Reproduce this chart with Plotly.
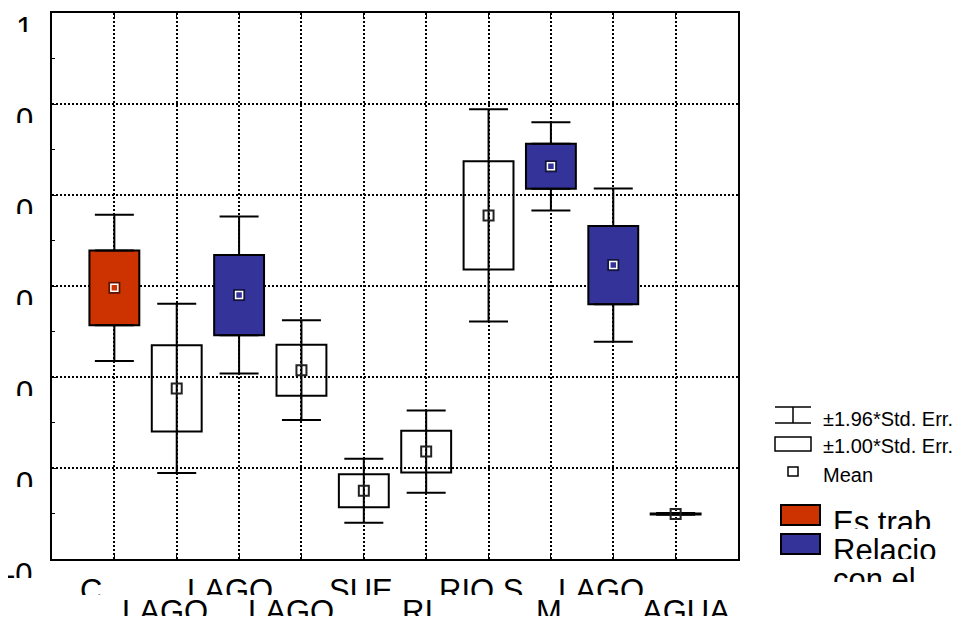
import plotly.graph_objects as go

# ---------------- data ----------------
categories = ["C", "LAGO", "LAGO", "LAGO", "SUE", "RI", "RIO S", "M", "LAGO", "AGUA"]
means = [0.396, 0.175, 0.380, 0.215, -0.050, 0.036, 0.555, 0.663, 0.446, -0.101]
std_err = [0.082, 0.095, 0.088, 0.056, 0.036, 0.046, 0.119, 0.0495, 0.086, 0.001]
groups = ["Es trab", None, "Relacio con el", None, None, None, None,
          "Relacio con el", "Relacio con el", None]
y_tick_values = [-0.2, 0.0, 0.2, 0.4, 0.6, 0.8, 1.0]
y_tick_text = ["-0", "0", "0", "0", "0", "0", "1"]
legend_stats = ["±1.96*Std. Err.", "±1.00*Std. Err.", "Mean"]
legend_groups = ["Es trab", "Relacio con el"]
legend_group_lines = [["Es trab"], ["Relacio", "con el"]]

# ---------------- style ----------------
group_fill = {"Es trab": "#CC3300", "Relacio con el": "#333399"}
group_dark = {"Es trab": "#5a1600", "Relacio con el": "#14143c"}
label_xshift = [-23, -12, -9, -10, -3, -9, -8, -2, -12, 10]
FONT = "Liberation Sans, Arial, sans-serif"
BODY = 8                      # default page margin of the html body
W, H = 961 - 2 * BODY, 624 - 2 * BODY
# plot area in page pixels: x 52..738, y 13..559
ML, MT = 52 - BODY, 13 - BODY
MR, MB = W - (738 - BODY), H - (559 - BODY)
PW, PH = W - ML - MR, H - MT - MB


def pxx(px):
    return (px - BODY - ML) / PW


def pxy(py):
    return (MT + PH - (py - BODY)) / PH


idx = list(range(len(categories)))
plain = [i for i in idx if groups[i] is None]
coloured = [i for i in idx if groups[i] is not None]

fig = go.Figure()

# boxes (mean ± 1 SE)
fig.add_trace(go.Bar(
    x=idx,
    y=[2 * s for s in std_err],
    base=[m - s for m, s in zip(means, std_err)],
    width=0.8,
    marker=dict(
        color=[group_fill[g] if g else "rgba(0,0,0,0)" for g in groups],
        line=dict(color="black", width=2),
    ),
    hoverinfo="skip",
))

# whiskers for unfilled boxes: full ±1.96 SE through the box
fig.add_trace(go.Scatter(
    x=plain, y=[means[i] for i in plain], mode="markers",
    marker=dict(size=2, opacity=0),
    error_y=dict(type="data", array=[1.96 * std_err[i] for i in plain],
                 color="black", thickness=2, width=19.5),
    hoverinfo="skip",
))
# whiskers for filled boxes: segments outside the box only
fig.add_trace(go.Scatter(
    x=coloured, y=[means[i] + std_err[i] for i in coloured], mode="markers",
    marker=dict(size=2, opacity=0),
    error_y=dict(type="data", symmetric=False,
                 array=[0.96 * std_err[i] for i in coloured],
                 arrayminus=[0 for _ in coloured],
                 color="black", thickness=2, width=19.5),
    hoverinfo="skip",
))
fig.add_trace(go.Scatter(
    x=coloured, y=[means[i] - std_err[i] for i in coloured], mode="markers",
    marker=dict(size=2, opacity=0),
    error_y=dict(type="data", symmetric=False,
                 array=[0 for _ in coloured],
                 arrayminus=[0.96 * std_err[i] for i in coloured],
                 color="black", thickness=2, width=19.5),
    hoverinfo="skip",
))

# mean markers
fig.add_trace(go.Scatter(
    x=plain, y=[means[i] for i in plain], mode="markers",
    marker=dict(symbol="square-open", size=10, color="#222",
                line=dict(width=2, color="#222")),
    hoverinfo="skip",
))
fig.add_trace(go.Scatter(
    x=coloured, y=[means[i] for i in coloured], mode="markers",
    marker=dict(symbol="square", size=12,
                color=[group_dark[groups[i]] for i in coloured]),
    hoverinfo="skip",
))
fig.add_trace(go.Scatter(
    x=coloured, y=[means[i] for i in coloured], mode="markers",
    marker=dict(symbol="square", size=7,
                color=[group_fill[groups[i]] for i in coloured],
                line=dict(color="white", width=1.5)),
    hoverinfo="skip",
))

annotations = []
# x category labels (two staggered rows, clipped at the bottom)
for i, lab in enumerate(categories):
    top = (i % 2 == 0)
    annotations.append(dict(
        text=lab, xref="x", x=i, yref="paper", y=0,
        xanchor="center", yanchor="top", valign="top",
        xshift=label_xshift[i], yshift=-13 if top else -34,
        height=22 if top else 25, borderpad=0, showarrow=False,
        font=dict(family=FONT, size=31, color="black"),
    ))
# y tick labels (clipped)
for v, t in zip(y_tick_values, y_tick_text):
    annotations.append(dict(
        text=t, xref="paper", x=0, yref="y", y=v,
        xanchor="right", yanchor="top", valign="top",
        xshift=-18, yshift=3, height=21, borderpad=0, showarrow=False,
        font=dict(family=FONT, size=31, color="black"),
    ))

# legend: statistics part
shapes = []
lx0, lx1, lxc = 775, 811, 793
shapes += [
    dict(type="line", xref="paper", yref="paper", x0=pxx(lx0), x1=pxx(lx1),
         y0=pxy(407), y1=pxy(407), line=dict(color="black", width=1.5)),
    dict(type="line", xref="paper", yref="paper", x0=pxx(lxc), x1=pxx(lxc),
         y0=pxy(407), y1=pxy(423), line=dict(color="black", width=1.5)),
    dict(type="line", xref="paper", yref="paper", x0=pxx(lx0), x1=pxx(lx1),
         y0=pxy(423), y1=pxy(423), line=dict(color="black", width=1.5)),
    dict(type="rect", xref="paper", yref="paper", x0=pxx(lx0), x1=pxx(lx1),
         y0=pxy(437), y1=pxy(451), fillcolor="white",
         line=dict(color="black", width=1.5)),
    dict(type="rect", xref="paper", yref="paper", x0=pxx(788), x1=pxx(798),
         y0=pxy(467), y1=pxy(476), fillcolor="white",
         line=dict(color="black", width=1.5)),
]
for text, cy in zip(legend_stats, [419, 446, 475]):
    annotations.append(dict(
        text=text, xref="paper", x=pxx(822), yref="paper", y=pxy(cy),
        xanchor="left", yanchor="middle", showarrow=False, borderpad=0,
        font=dict(family=FONT, size=20, color="black"),
    ))

# legend: groups part
group_box_tops = [505, 534]
line_tops = [[504], [532, 561]]
line_heights = [[24], [26, 20]]
for g, lines, bt, tops, hts in zip(legend_groups, legend_group_lines,
                                   group_box_tops, line_tops, line_heights):
    shapes.append(dict(type="rect", xref="paper", yref="paper",
                       x0=pxx(781), x1=pxx(820), y0=pxy(bt), y1=pxy(bt + 20),
                       fillcolor=group_fill[g],
                       line=dict(color="black", width=2)))
    for ln, tp, h in zip(lines, tops, hts):
        annotations.append(dict(
            text=ln, xref="paper", x=pxx(832), yref="paper", y=pxy(tp),
            xanchor="left", yanchor="top", valign="top", height=h,
            borderpad=0, showarrow=False,
            font=dict(family=FONT, size=31, color="black"),
        ))

fig.update_layout(
    width=W, height=H,
    margin=dict(l=ML, r=MR, t=MT, b=MB, autoexpand=False),
    paper_bgcolor="white", plot_bgcolor="white",
    showlegend=False, barmode="overlay",
    font=dict(family=FONT, color="black"),
    annotations=annotations, shapes=shapes,
    xaxis=dict(range=[-1, 10], tickmode="array", tickvals=list(range(-1, 11)),
               showticklabels=False, ticks="inside", ticklen=5,
               tickcolor="black", showgrid=True, gridcolor="black",
               griddash="2px,2px", gridwidth=1.5, zeroline=False,
               showline=True, linecolor="black", linewidth=2,
               mirror="allticks", fixedrange=True),
    yaxis=dict(range=[-0.2, 1.0], tickmode="array", tickvals=y_tick_values,
               showticklabels=False, ticks="inside", ticklen=5,
               tickcolor="black", showgrid=True, gridcolor="black",
               griddash="2px,2px", gridwidth=1.5, zeroline=False,
               showline=True, linecolor="black", linewidth=2, mirror=True,
               minor=dict(ticks="inside", ticklen=3, dtick=0.1,
                          tick0=-0.2, tickcolor="black", showgrid=False),
               fixedrange=True),
)

fig.write_html("out.html")
